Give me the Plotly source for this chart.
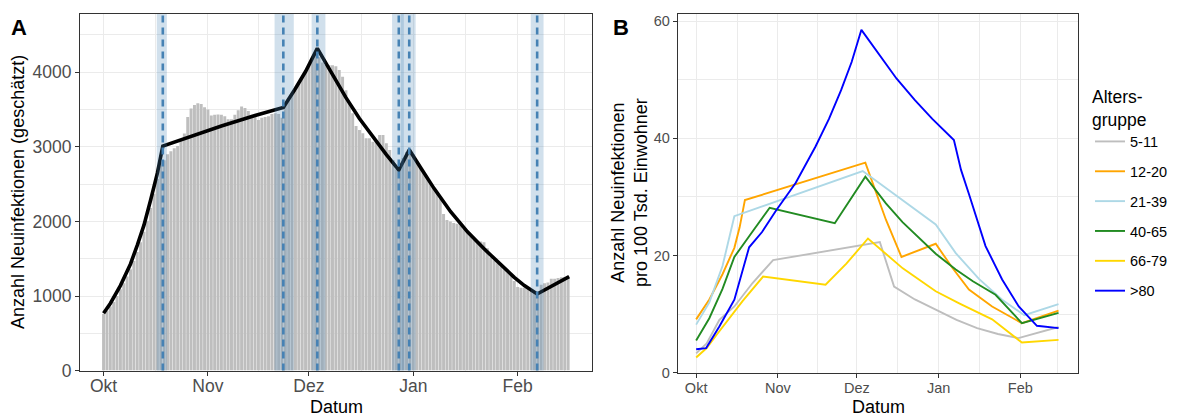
import pandas as pd
import plotly.graph_objects as go

W, H = 1187, 416
FONT = "Liberation Sans, Arial, sans-serif"
start = pd.Timestamp("2021-10-01")

# ---------------- Panel A data ----------------
daily_cases = [
    760, 800, 860, 920, 1000, 1090, 1170, 1260, 1360, 1470,
    1590, 1720, 1860, 2010, 2180, 2370, 2570, 2790, 2820, 2900,
    2940, 2980, 3010, 3100, 3180, 3400, 3515, 3560, 3585, 3575,
    3530, 3500, 3420, 3430, 3435, 3430, 3410, 3370, 3370, 3430,
    3490, 3540, 3520, 3480, 3430, 3420, 3360, 3390, 3400, 3410,
    3440, 3450, 3440, 3390, 3560, 3620, 3700, 3760, 3850, 3930,
    4010, 4090, 4170, 4260, 4200, 4130, 4100, 4095, 4095, 4080,
    4030, 3940, 3760, 3600, 3450, 3280, 3226, 3181, 3114, 3114,
    3069, 3060, 3158, 3158, 3047, 2957, 2823, 2700, 2750, 2850,
    2930, 2960, 2900, 2800, 2740, 2660, 2590, 2520, 2450, 2380,
    2300, 2100, 2020, 2000, 1980, 1970, 1950, 1900, 1850, 1800,
    1760, 1730, 1730, 1720, 1640, 1520, 1480, 1440, 1400, 1360,
    1320, 1280, 1200, 1120, 1110, 1110, 1100, 1070, 1040, 1050,
    1150, 1170, 1180, 1230, 1230, 1240, 1250, 1255, 1260,
]

fit_days = [0, 2, 5, 8, 10, 12, 14, 16, 17.6, 25.7, 35, 45, 53.4, 57, 60, 63.5,
            68, 72, 76, 80, 84, 87.7, 90.8, 94.2, 98.2, 103.1, 108.1, 113.1,
            118, 122, 125, 128.8, 138.3]
fit_values = [768, 900, 1140, 1430, 1680, 1950, 2290, 2650, 3011, 3136, 3280,
              3420, 3529, 3783, 4010, 4320, 3960, 3660, 3380, 3130, 2895, 2689,
              2960, 2720, 2440, 2130, 1860, 1630, 1420, 1250, 1140, 1027, 1259]

break_days = [17.6, 53.4, 63.5, 87.7, 90.8, 128.8]
break_lo = [15.8, 50.8, 61.8, 85.7, 88.3, 126.9]
break_hi = [18.8, 56.5, 65.9, 89.2, 92.7, 130.7]

# ---------------- Panel B data ----------------
age_labels = ["5-11", "12-20", "21-39", "40-65", "66-79", ">80"]
age_colors = ["#BEBEBE", "#FFA500", "#ADD8E6", "#228B22", "#FFD700", "#0000FF"]

days_5_11 = [0, 4, 8.8, 14.5, 21.4, 29.2, 69.7, 75.1, 83, 90.9, 98.8, 106.6, 114.5, 122.3, 137.5]
vals_5_11 = [3.3, 5.0, 9.0, 11.3, 15.3, 19.2, 22.3, 14.7, 12.5, 10.7, 9.0, 7.6, 6.6, 5.9, 7.8]

days_12_20 = [0, 5, 10, 14.5, 16.5, 18.5, 64.2, 72, 77.9, 90.9, 97.2, 103.5, 112.3, 123.6, 137.5]
vals_12_20 = [9.1, 12.5, 16.8, 21.3, 24.8, 29.45, 35.85, 26.1, 19.75, 22.0, 17.9, 14.2, 11.3, 8.45, 10.6]

days_21_39 = [0, 5, 10, 14.5, 63.2, 90.9, 98.5, 107.3, 116.1, 124.5, 137.5]
vals_21_39 = [8.2, 12.0, 18.2, 26.7, 34.4, 25.3, 20.4, 16.0, 12.45, 9.8, 11.7]

days_40_65 = [0, 5, 10, 14.5, 21.4, 27.9, 52.6, 64.2, 72, 78.3, 90.9, 98.5, 105, 113.6, 123.6, 137.5]
vals_40_65 = [5.5, 9.3, 14.3, 19.75, 24.1, 28.15, 25.5, 33.45, 28.9, 25.7, 20.3, 17.6, 15.6, 13.3, 8.45, 10.2]

days_66_79 = [0, 4, 8, 12, 17.6, 25.4, 49.1, 57, 65.2, 78.4, 90.9, 100, 112.3, 123.6, 137.5]
vals_66_79 = [2.6, 4.2, 6.6, 9.0, 12.2, 16.4, 15.0, 18.6, 22.9, 17.8, 13.9, 11.8, 9.1, 5.14, 5.6]

days_80 = [0, 3.8, 8.8, 14.5, 20.1, 25, 30.2, 37.8, 45.3, 50.4, 55, 59, 62.7, 70, 76, 83,
           89.6, 97.8, 100.5, 103.5, 106.5, 109.8, 116.1, 122.4, 129.3, 137.5]
vals_80 = [4.0, 4.2, 7.9, 12.45, 21.4, 24.0, 27.6, 32.4, 38.6, 43.3, 48.2, 53.0, 58.5, 54.0,
           50.2, 46.5, 43.3, 39.7, 34.6, 30.5, 26.3, 21.6, 15.9, 11.3, 8.0, 7.6]

age_days = [days_5_11, days_12_20, days_21_39, days_40_65, days_66_79, days_80]
age_vals = [vals_5_11, vals_12_20, vals_21_39, vals_40_65, vals_66_79, vals_80]

month_ticks = ["2021-10-01", "2021-11-01", "2021-12-01", "2022-01-01", "2022-02-01"]
month_labels = ["Okt", "Nov", "Dez", "Jan", "Feb"]
minor_ticks = ["2021-10-16 12:00", "2021-11-16", "2021-12-16 12:00", "2022-01-16 12:00", "2022-02-15"]


def to_date(days):
    return start + pd.to_timedelta(pd.Series(days, dtype=float), unit="D")


def d1(day):
    return (start + pd.Timedelta(days=day)).strftime("%Y-%m-%d %H:%M:%S")


x_range = [d1(-7.0), d1(145.0)]

fig = go.Figure()

bar_dates = pd.date_range(start, periods=len(daily_cases), freq="D")
fig.add_trace(go.Bar(x=bar_dates, y=daily_cases, marker=dict(color="#BEBEBE", line=dict(width=0)),
                     showlegend=False, xaxis="x", yaxis="y", hoverinfo="skip"))
fig.add_trace(go.Scatter(x=to_date(fit_days), y=fit_values, mode="lines",
                         line=dict(color="black", width=3.6), showlegend=False,
                         xaxis="x", yaxis="y"))

shapes = []
for lo, hi in zip(break_lo, break_hi):
    shapes.append(dict(type="rect", xref="x", yref="y domain", x0=d1(lo), x1=d1(hi), y0=0, y1=1,
                       fillcolor="rgba(70,130,180,0.25)", line=dict(width=0), layer="above"))
for bd in break_days:
    shapes.append(dict(type="line", xref="x", yref="y domain", x0=d1(bd), x1=d1(bd), y0=0, y1=1,
                       line=dict(color="#4682B4", width=2.6, dash="7px,5px"), layer="above"))

for i, (lab, col) in enumerate(zip(age_labels, age_colors)):
    fig.add_trace(go.Scatter(x=to_date(age_days[i]), y=age_vals[i], mode="lines", name=lab,
                             line=dict(color=col, width=1.9), legendgroup=lab,
                             xaxis="x2", yaxis="y2"))

common_x = dict(type="date", range=x_range, tickvals=month_ticks, ticktext=month_labels,
                ticks="outside", ticklen=4, tickcolor="#333333", tickwidth=1,
                showline=True, mirror=True, linecolor="#333333", linewidth=1,
                showgrid=True, gridcolor="#EBEBEB", gridwidth=1.3, zeroline=False,
                automargin=False,
                minor=dict(tickmode="array", tickvals=minor_ticks, showgrid=True,
                           gridcolor="#EBEBEB", gridwidth=0.8, ticks=""))
common_y = dict(ticks="outside", ticklen=4, tickcolor="#333333", tickwidth=1,
                showline=True, mirror=True, linecolor="#333333", linewidth=1,
                showgrid=True, gridcolor="#EBEBEB", gridwidth=1.3, zeroline=False,
                automargin=False)

fig.update_layout(
    width=W, height=H, margin=dict(l=0, r=0, t=0, b=0, autoexpand=False),
    paper_bgcolor="white", plot_bgcolor="white",
    font=dict(family=FONT, color="black"),
    bargap=0.12,
    xaxis=dict(domain=[80 / W, 591.7 / W], anchor="y", ticklabelstandoff=-5,
               tickfont=dict(size=17.5, color="#4D4D4D"), **common_x),
    yaxis=dict(domain=[1 - 370.6 / H, 1 - 14 / H], anchor="x", range=[0, 4781],
               tickvals=[0, 1000, 2000, 3000, 4000],
               minor=dict(tickmode="array", tickvals=[500, 1500, 2500, 3500, 4500], showgrid=True,
                          gridcolor="#EBEBEB", gridwidth=0.8, ticks=""),
               tickfont=dict(size=17.5, color="#4D4D4D"), **common_y),
    xaxis2=dict(domain=[677.7 / W, 1078.3 / W], anchor="y2", ticklabelstandoff=-2,
                tickfont=dict(size=14.5, color="#4D4D4D"), **common_x),
    yaxis2=dict(domain=[1 - 372.7 / H, 1 - 14 / H], anchor="x2", range=[0, 61.2],
                tickvals=[0, 20, 40, 60],
                minor=dict(tickmode="array", tickvals=[10, 30, 50], showgrid=True,
                           gridcolor="#EBEBEB", gridwidth=0.8, ticks=""),
                tickfont=dict(size=14.5, color="#4D4D4D"), **common_y),
    shapes=shapes,
    legend=dict(x=1090 / W, xanchor="left", y=1 - 80 / H, yanchor="top",
                title=dict(text="Alters-<br>gruppe", font=dict(size=17.5, color="black")),
                font=dict(size=14.5, color="black"), tracegroupgap=8,
                bgcolor="rgba(0,0,0,0)", itemwidth=30),
    annotations=[
        dict(text="<b>A</b>", x=9 / W, y=1 - 13 / H, xref="paper", yref="paper",
             xanchor="left", yanchor="top", showarrow=False, font=dict(size=22, color="black")),
        dict(text="<b>B</b>", x=611 / W, y=1 - 13 / H, xref="paper", yref="paper",
             xanchor="left", yanchor="top", showarrow=False, font=dict(size=22, color="black")),
        dict(text="Datum", x=336 / W, y=1 - 407 / H, xref="paper", yref="paper",
             xanchor="center", yanchor="middle", showarrow=False, font=dict(size=18)),
        dict(text="Datum", x=878 / W, y=1 - 407 / H, xref="paper", yref="paper",
             xanchor="center", yanchor="middle", showarrow=False, font=dict(size=18)),
        dict(text="Anzahl Neuinfektionen (geschätzt)", x=18 / W, y=1 - 192 / H,
             xref="paper", yref="paper", xanchor="center", yanchor="middle",
             showarrow=False, textangle=-90, font=dict(size=18)),
        dict(text="Anzahl Neuinfektionen<br>pro 100 Tsd. Einwohner", x=629 / W, y=1 - 193 / H,
             xref="paper", yref="paper", xanchor="center", yanchor="middle",
             showarrow=False, textangle=-90, font=dict(size=18)),
    ],
)

fig.write_html("out.html")
